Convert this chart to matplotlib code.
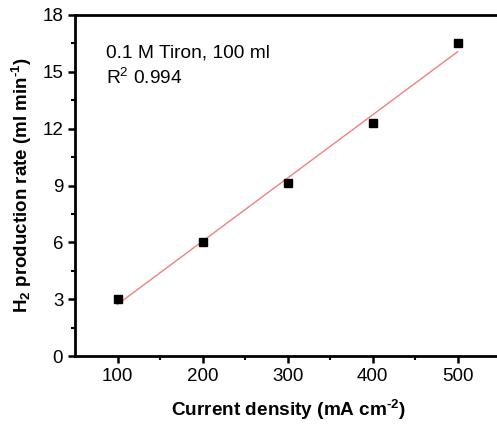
import matplotlib.pyplot as plt
import numpy as np

plt.rcParams['font.family'] = ['Liberation Sans', 'DejaVu Sans']

current_density = [100, 200, 300, 400, 500]
h2_rate = [3.0, 6.0, 9.15, 12.32, 16.5]

slope, intercept = np.polyfit(current_density, h2_rate, 1)
x_fit = np.array([100, 500])

fig = plt.figure(figsize=(4.97, 4.26), dpi=100)
ax = fig.add_axes([0.151, 0.164, 0.86, 0.801])

ax.plot(x_fit, slope * x_fit + intercept, color='#f08080', linewidth=1)
ax.plot(current_density, h2_rate, 's', color='black', markersize=5.5)

ax.text(0.072, 0.888, '0.1 M Tiron, 100 ml', transform=ax.transAxes, fontsize=13.8,
        va='center')
ax.text(0.072, 0.815, r'R$\mathregular{^2}$ 0.994', transform=ax.transAxes, fontsize=13.8,
        va='center')

ax.set_xlim(50, 552.8)
ax.set_ylim(0, 18)
ax.set_xticks([100, 200, 300, 400, 500])
ax.set_xticks([150, 250, 350, 450], minor=True)
ax.set_yticks([0, 3, 6, 9, 12, 15, 18])
ax.set_yticks([1.5, 4.5, 7.5, 10.5, 13.5, 16.5], minor=True)
ax.tick_params(which='major', direction='out', length=5, width=1.8, labelsize=13.5)
ax.tick_params(which='minor', direction='out', length=3, width=1.5)
for s in ax.spines.values():
    s.set_linewidth(2)

ax.set_xlabel('Current density (mA cm$\\mathregular{^{\u2010 2}}$)', fontsize=13.7,
              fontweight='bold', labelpad=9)
ax.set_ylabel('H$\\mathregular{_2}$ production rate (ml min$\\mathregular{^{\u2010 1}}$)',
              fontsize=13.5, fontweight='bold', labelpad=6)

fig.savefig('out.png', dpi=100)
